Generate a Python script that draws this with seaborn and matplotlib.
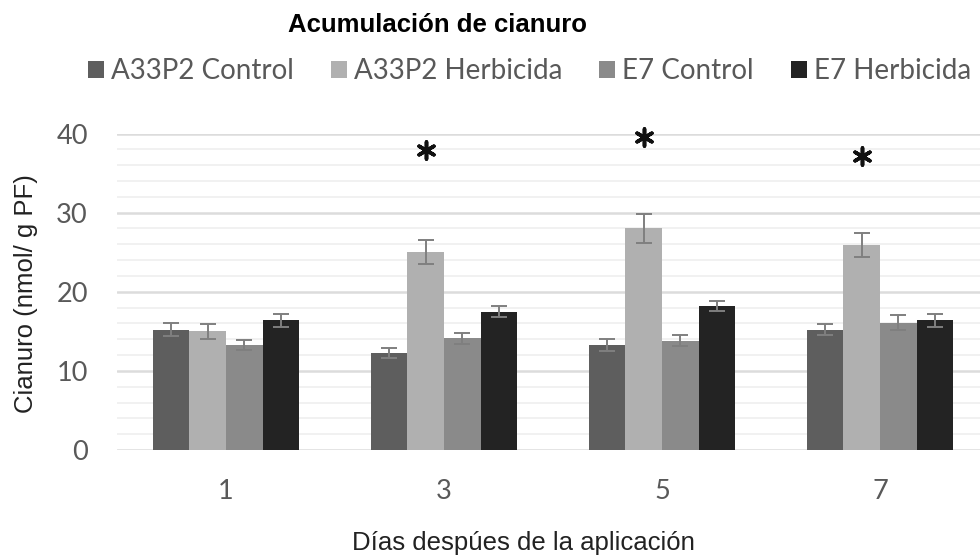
import matplotlib
matplotlib.use("Agg")
import matplotlib.pyplot as plt
from matplotlib.ticker import MultipleLocator
from matplotlib import font_manager
import seaborn as sns
import pandas as pd

# ---- data ----
days = ["1", "3", "5", "7"]
series = ["A33P2 Control", "A33P2 Herbicida", "E7 Control", "E7 Herbicida"]
a33_control = [15.2, 12.25, 13.3, 15.2]
a33_herbicida = [15.0, 25.0, 28.0, 25.9]
e7_control = [13.3, 14.1, 13.8, 16.1]
e7_herbicida = [16.4, 17.5, 18.2, 16.4]
a33_control_err = [0.85, 0.6, 0.75, 0.7]
a33_herbicida_err = [0.95, 1.55, 1.8, 1.5]
e7_control_err = [0.6, 0.7, 0.7, 0.9]
e7_herbicida_err = [0.8, 0.7, 0.68, 0.8]
sig_days = ["3", "5", "7"]
sig_y = [37.9, 39.6, 37.1]
yticks = [0, 10, 20, 30, 40]

colors = ["#5e5e5e", "#b0b0b0", "#8a8a8a", "#232323"]

values = [a33_control, a33_herbicida, e7_control, e7_herbicida]
errors = [a33_control_err, a33_herbicida_err, e7_control_err, e7_herbicida_err]
rows = []
for s, vals in zip(series, values):
    for d, v in zip(days, vals):
        rows.append({"day": d, "serie": s, "value": v})
df = pd.DataFrame(rows)

sns.set_theme(style="white")
names = {f.name for f in font_manager.fontManager.ttflist}
calib = "Lato" if "Lato" in names else "DejaVu Sans"
arial = "Liberation Sans"
plt.rcParams["font.family"] = [calib, "DejaVu Sans"]

fig = plt.figure(figsize=(9.8, 5.57), dpi=100)
ax = fig.add_axes([117 / 980, 1 - 450 / 557, (984.6 - 117) / 980, (450 - 133.5) / 557])

sns.barplot(data=df, x="day", y="value", hue="serie", order=days, hue_order=series,
            palette=colors, width=0.672, gap=0, errorbar=None, ax=ax,
            linewidth=0, legend=True, zorder=3)

# error bars from bar geometry
for cont, errs in zip(ax.containers, errors):
    xs = [p.get_x() + p.get_width() / 2 for p in cont.patches]
    ys = [p.get_height() for p in cont.patches]
    ax.errorbar(xs, ys, yerr=errs, fmt="none", ecolor="#7f7f7f", elinewidth=1.4,
                capsize=6, capthick=1.4, zorder=4)

# significance asterisks above herbicida bars
herb_cont = ax.containers[1]
day_to_x = {d: p.get_x() + p.get_width() / 2 for d, p in zip(days, herb_cont.patches)}
ax.scatter([day_to_x[d] for d in sig_days], sig_y, marker=(6, 2, 0), s=150,
           color="#111111", linewidths=2.6, zorder=5, clip_on=False)

ax.set_ylim(0, 40)
ax.set_xlim(-0.5, 3.48)
ax.set_yticks(yticks)
ax.yaxis.set_minor_locator(MultipleLocator(2))
ax.set_axisbelow(True)
ax.grid(axis="y", which="major", color="#dcdcdc", linewidth=1.8, zorder=0)
ax.grid(axis="y", which="minor", color="#efefef", linewidth=1.2, zorder=0)
for sp in ax.spines.values():
    sp.set_visible(False)
ax.tick_params(axis="both", which="both", length=0)
ax.tick_params(axis="y", pad=21, labelsize=19.5, labelcolor="#595959")
ax.tick_params(axis="x", pad=21, labelsize=19.5, labelcolor="#595959")
ax.set_xlabel("")
ax.set_ylabel("")

handles, labels = ax.get_legend_handles_labels()
ax.get_legend().remove()
fig.legend(handles, labels, loc="center left",
           bbox_to_anchor=(88 / 980, 1 - 71 / 557), ncol=4, frameon=False,
           fontsize=20, handlelength=0.58, handleheight=0.58, handletextpad=0.25,
           columnspacing=1.33, borderpad=0, borderaxespad=0,
           labelcolor="#595959")

fig.text(438 / 980, 1 - 25 / 557, "Acumulación de cianuro", ha="center", va="center",
         fontsize=18.5, fontweight="bold", family=arial, color="#000000")
fig.text(523 / 980, 1 - 543 / 557, "Días despúes de la aplicación", ha="center",
         va="center", fontsize=18.5, family=arial, color="#222222")
fig.text(26 / 980, 1 - 294 / 557, "Cianuro (nmol/ g PF)", ha="center", va="center",
         rotation=90, fontsize=18.5, family=arial, color="#222222")

fig.savefig("out.png", dpi=100)
